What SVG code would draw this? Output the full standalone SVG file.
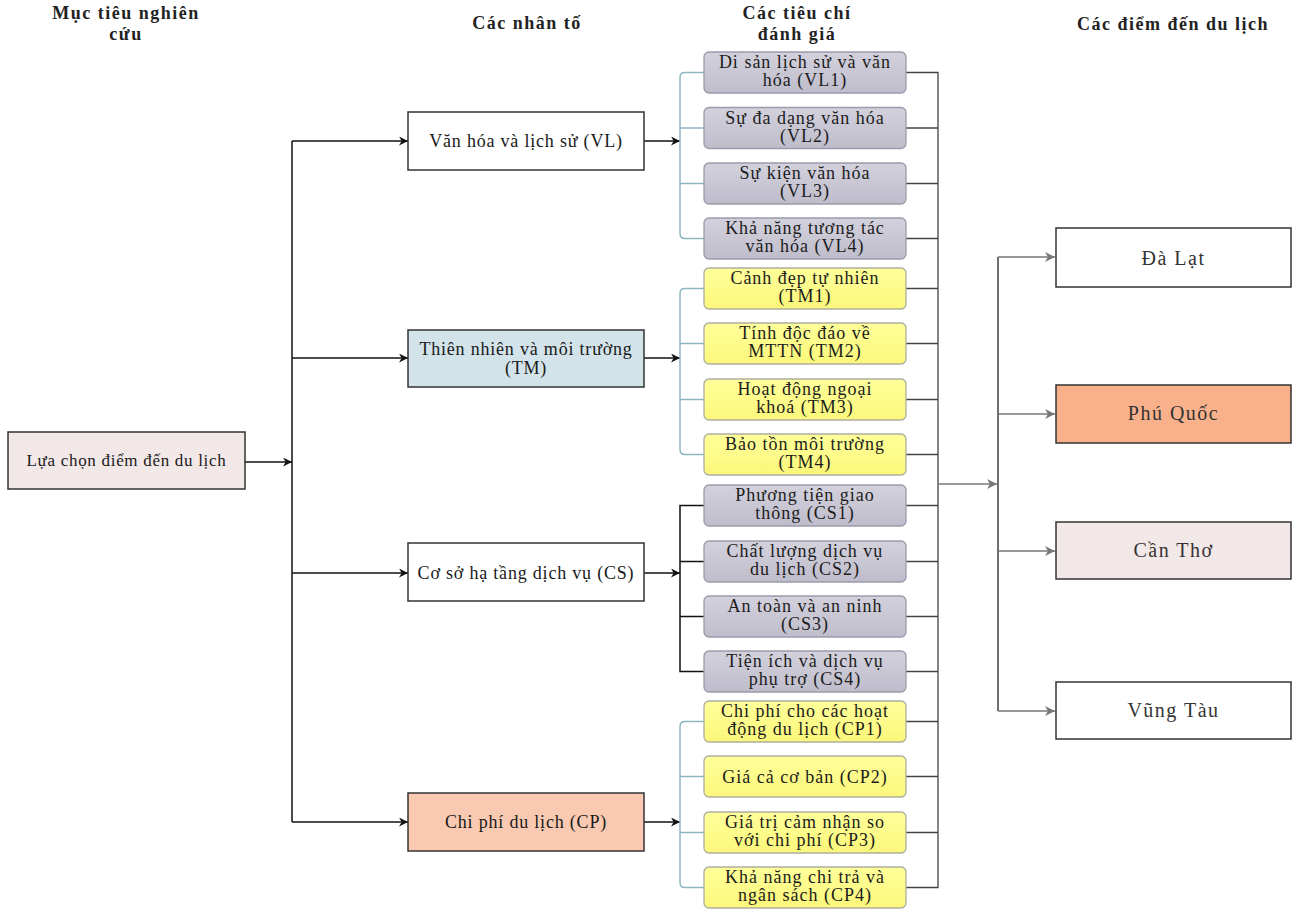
<svg xmlns="http://www.w3.org/2000/svg" width="1294" height="909" viewBox="0 0 1294 909" font-family="'Liberation Serif', Tinos, 'DejaVu Serif', serif">
<defs>
<linearGradient id="gGray" x1="0" y1="0" x2="0" y2="1"><stop offset="0" stop-color="#d2d1dc"/><stop offset="1" stop-color="#bfbdcb"/></linearGradient>
<linearGradient id="gYel" x1="0" y1="0" x2="0" y2="1"><stop offset="0" stop-color="#ffff9a"/><stop offset="1" stop-color="#fbf77a"/></linearGradient>
<marker id="ab" viewBox="0 0 10 10" refX="10" refY="5" markerWidth="9" markerHeight="9" markerUnits="userSpaceOnUse" orient="auto"><path d="M0,0 L10,5 L0,10 L3,5 Z" fill="#111"/></marker>
<marker id="ag" viewBox="0 0 10 10" refX="10" refY="5" markerWidth="10" markerHeight="10" markerUnits="userSpaceOnUse" orient="auto"><path d="M0,0 L10,5 L0,10 L3,5 Z" fill="#777"/></marker>
</defs>
<style>
text{font-family:'Liberation Serif',Tinos,'DejaVu Serif',serif;text-anchor:middle;fill:#1a1a1a}
.h{font-weight:bold;font-size:18px;letter-spacing:1.5px;fill:#222}
.f{font-size:18px;letter-spacing:0.8px}
.g0{font-size:17px;letter-spacing:0.7px}
.c{font-size:18px;letter-spacing:1px;fill:#1c1c1c}
.d{font-size:20px;letter-spacing:1.5px;fill:#333}
.box{stroke:#333;stroke-width:1.5}
.gray{fill:url(#gGray);stroke:#9c9aab;stroke-width:1.3}
.yel{fill:url(#gYel);stroke:#aeaea0;stroke-width:1.3}
.k{fill:none;stroke:#111;stroke-width:1.5}
.t{fill:none;stroke:#8db6c1;stroke-width:1.5}
.r{fill:none;stroke:#444;stroke-width:1.3}
.g{fill:none;stroke:#777;stroke-width:1.3}
</style>
<rect width="1294" height="909" fill="#fff"/>
<g id="headers">
<text class="h" x="126" y="19">Mục tiêu nghiên</text>
<text class="h" x="126" y="40">cứu</text>
<text class="h" x="527" y="29">Các nhân tố</text>
<text class="h" x="797" y="19">Các tiêu chí</text>
<text class="h" x="797" y="40">đánh giá</text>
<text class="h" x="1173" y="30">Các điểm đến du lịch</text>
</g>
<g id="connectors">
<path class="k" d="M245,462 H292" marker-end="url(#ab)"/>
<path class="k" d="M292,141 V822"/>
<path class="k" d="M292,141 H408" marker-end="url(#ab)"/>
<path class="k" d="M292,358 H408" marker-end="url(#ab)"/>
<path class="k" d="M292,573 H408" marker-end="url(#ab)"/>
<path class="k" d="M292,822 H408" marker-end="url(#ab)"/>
<path class="k" d="M644,141 H680" marker-end="url(#ab)"/>
<path class="k" d="M644,358 H680" marker-end="url(#ab)"/>
<path class="k" d="M644,573 H680" marker-end="url(#ab)"/>
<path class="k" d="M644,822 H680" marker-end="url(#ab)"/>
<path class="t" d="M704,72.5 H685 Q680,72.5 680,77.5 V233.5 Q680,238.5 685,238.5 H704 M680,128 H704 M680,183.5 H704"/>
<path class="t" d="M704,288.5 H685 Q680,288.5 680,293.5 V449.5 Q680,454.5 685,454.5 H704 M680,343.5 H704 M680,399.5 H704"/>
<path class="k" d="M704,505.5 H680 V671.5 H704 M680,561.5 H704 M680,616.5 H704"/>
<path class="t" d="M704,721.5 H685 Q680,721.5 680,726.5 V882.5 Q680,887.5 685,887.5 H704 M680,776.5 H704 M680,832.5 H704"/>
<path class="r" d="M906,72.5 H938 V887.5 H906 M906,128 H938 M906,183.5 H938 M906,238.5 H938 M906,288.5 H938 M906,343.5 H938 M906,399.5 H938 M906,454.5 H938 M906,505.5 H938 M906,561.5 H938 M906,616.5 H938 M906,671.5 H938 M906,721.5 H938 M906,776.5 H938 M906,832.5 H938"/>
<path class="g" d="M938,484 H997" marker-end="url(#ag)"/>
<path class="k" d="M998,257 V711" style="stroke:#222;stroke-width:1.3"/>
<path class="g" d="M998,257 H1055" marker-end="url(#ag)"/>
<path class="g" d="M998,414 H1055" marker-end="url(#ag)"/>
<path class="g" d="M998,551 H1055" marker-end="url(#ag)"/>
<path class="g" d="M998,711 H1055" marker-end="url(#ag)"/>
</g>
<g id="goal"><rect class="box" x="8" y="432" width="237" height="57" fill="#f3e8e8"/><text class="g0" x="126.5" y="466">Lựa chọn điểm đến du lịch</text></g>
<g id="VL"><rect class="box" x="408" y="112" width="236" height="58" fill="#fff"/><text class="f" x="526" y="147">Văn hóa và lịch sử (VL)</text></g>
<g id="TM"><rect class="box" x="408" y="330" width="236" height="57" fill="#d2e3ea"/><text class="f" x="526" y="355">Thiên nhiên và môi trường</text><text class="f" x="526" y="374">(TM)</text></g>
<g id="CS"><rect class="box" x="408" y="543" width="236" height="58" fill="#fff"/><text class="f" x="526" y="579">Cơ sở hạ tầng dịch vụ (CS)</text></g>
<g id="CP"><rect class="box" x="408" y="793" width="236" height="58" fill="#f9c9b1"/><text class="f" x="526" y="828">Chi phí du lịch (CP)</text></g>
<g id="VL1"><rect class="gray" x="704" y="52" width="202" height="41" rx="5"/><text class="c" x="805" y="68">Di sản lịch sử và văn</text><text class="c" x="805" y="86">hóa (VL1)</text></g>
<g id="VL2"><rect class="gray" x="704" y="107.5" width="202" height="41" rx="5"/><text class="c" x="805" y="123.5">Sự đa dạng văn hóa</text><text class="c" x="805" y="141.5">(VL2)</text></g>
<g id="VL3"><rect class="gray" x="704" y="163" width="202" height="41" rx="5"/><text class="c" x="805" y="179">Sự kiện văn hóa</text><text class="c" x="805" y="197">(VL3)</text></g>
<g id="VL4"><rect class="gray" x="704" y="218" width="202" height="41" rx="5"/><text class="c" x="805" y="234">Khả năng tương tác</text><text class="c" x="805" y="252">văn hóa (VL4)</text></g>
<g id="TM1"><rect class="yel" x="704" y="268" width="202" height="41" rx="5"/><text class="c" x="805" y="284">Cảnh đẹp tự nhiên</text><text class="c" x="805" y="302">(TM1)</text></g>
<g id="TM2"><rect class="yel" x="704" y="323" width="202" height="41" rx="5"/><text class="c" x="805" y="339">Tính độc đáo về</text><text class="c" x="805" y="357">MTTN (TM2)</text></g>
<g id="TM3"><rect class="yel" x="704" y="379" width="202" height="41" rx="5"/><text class="c" x="805" y="395">Hoạt động ngoại</text><text class="c" x="805" y="413">khoá (TM3)</text></g>
<g id="TM4"><rect class="yel" x="704" y="434" width="202" height="41" rx="5"/><text class="c" x="805" y="450">Bảo tồn môi trường</text><text class="c" x="805" y="468">(TM4)</text></g>
<g id="CS1"><rect class="gray" x="704" y="485" width="202" height="41" rx="5"/><text class="c" x="805" y="501">Phương tiện giao</text><text class="c" x="805" y="519">thông (CS1)</text></g>
<g id="CS2"><rect class="gray" x="704" y="541" width="202" height="41" rx="5"/><text class="c" x="805" y="557">Chất lượng dịch vụ</text><text class="c" x="805" y="575">du lịch (CS2)</text></g>
<g id="CS3"><rect class="gray" x="704" y="596" width="202" height="41" rx="5"/><text class="c" x="805" y="612">An toàn và an ninh</text><text class="c" x="805" y="630">(CS3)</text></g>
<g id="CS4"><rect class="gray" x="704" y="651" width="202" height="41" rx="5"/><text class="c" x="805" y="667">Tiện ích và dịch vụ</text><text class="c" x="805" y="685">phụ trợ (CS4)</text></g>
<g id="CP1"><rect class="yel" x="704" y="701" width="202" height="41" rx="5"/><text class="c" x="805" y="717">Chi phí cho các hoạt</text><text class="c" x="805" y="735">động du lịch (CP1)</text></g>
<g id="CP2"><rect class="yel" x="704" y="756" width="202" height="41" rx="5"/><text class="c" x="805" y="783">Giá cả cơ bản (CP2)</text></g>
<g id="CP3"><rect class="yel" x="704" y="812" width="202" height="41" rx="5"/><text class="c" x="805" y="828">Giá trị cảm nhận so</text><text class="c" x="805" y="846">với chi phí (CP3)</text></g>
<g id="CP4"><rect class="yel" x="704" y="867" width="202" height="41" rx="5"/><text class="c" x="805" y="883">Khả năng chi trả và</text><text class="c" x="805" y="901">ngân sách (CP4)</text></g>
<g id="DaLat"><rect class="box" x="1056" y="228" width="235" height="59" fill="#fff"/><text class="d" x="1173.5" y="265">Đà Lạt</text></g>
<g id="PhuQuoc"><rect class="box" x="1056" y="385" width="235" height="58" fill="#f8b18b"/><text class="d" x="1173.5" y="420">Phú Quốc</text></g>
<g id="CanTho"><rect class="box" x="1056" y="522" width="235" height="57" fill="#f3e8e8"/><text class="d" x="1173.5" y="557">Cần Thơ</text></g>
<g id="VungTau"><rect class="box" x="1056" y="682" width="235" height="57" fill="#fff"/><text class="d" x="1173.5" y="717">Vũng Tàu</text></g>
</svg>
